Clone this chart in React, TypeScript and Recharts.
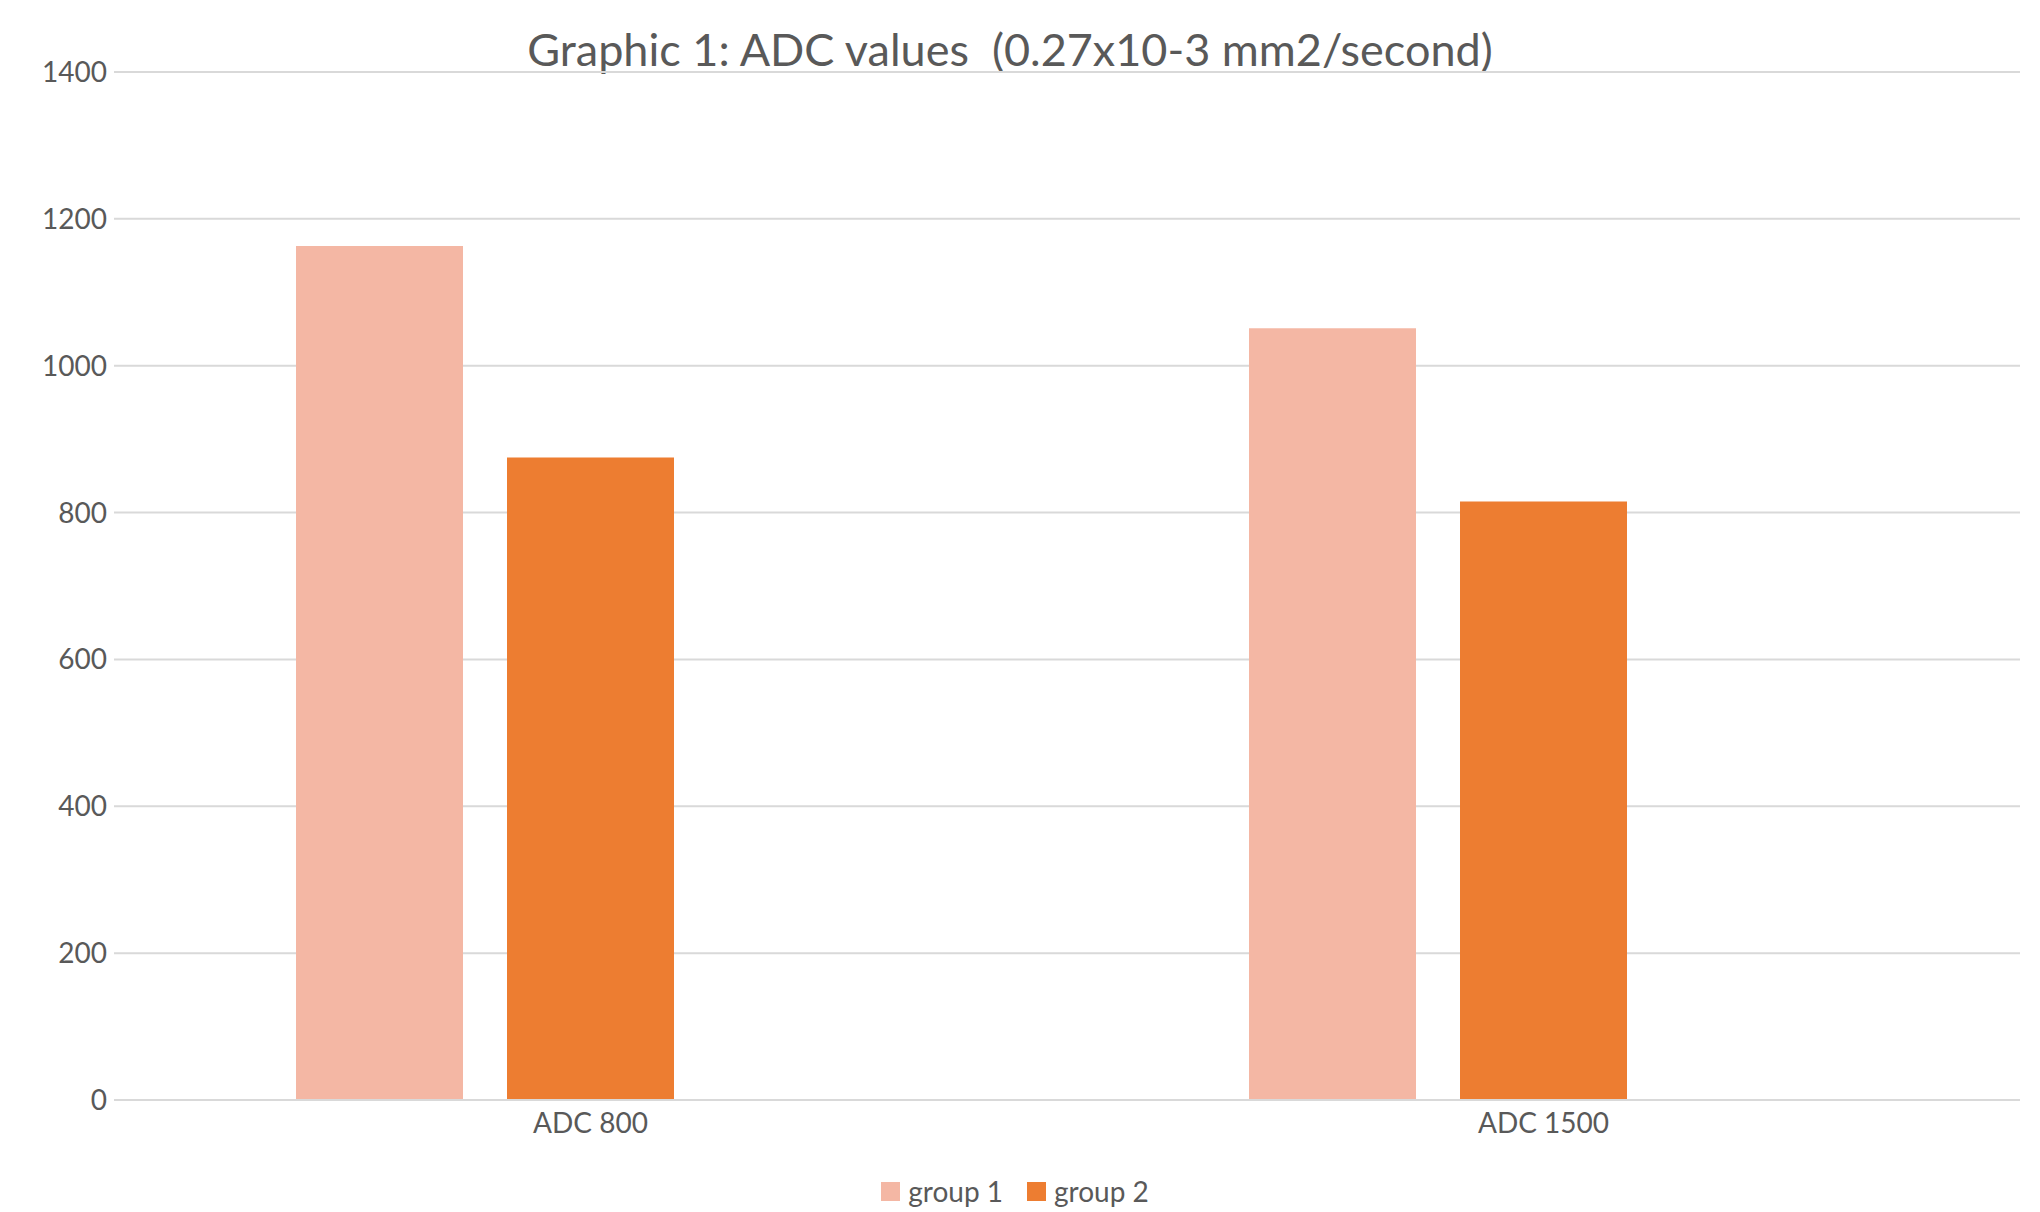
import { Bar, BarChart, CartesianGrid, Legend, XAxis, YAxis } from 'recharts';

const categories = ['ADC 800', 'ADC 1500'];
const group1 = [1163, 1051];
const group2 = [875, 815];
// third series slot is kept empty, so the pair sits left of each category tick
const group3: (number | null)[] = [null, null];
const yTicks = [0, 200, 400, 600, 800, 1000, 1200, 1400];

const colors = {
  group1: '#F4B7A4',
  group2: '#ED7D31',
  text: '#595959',
  grid: '#D9D9D9',
};

const data = categories.map((name, i) => ({
  name,
  group1: group1[i],
  group2: group2[i],
  group3: group3[i],
}));

const renderLegend = (props: any) => {
  const items = (props.payload || []).filter((p: any) => p.type !== 'none');
  return (
    <div style={{ display: 'flex', justifyContent: 'center', alignItems: 'center', gap: 24 }}>
      {items.map((entry: any) => (
        <span key={entry.value} style={{ display: 'inline-flex', alignItems: 'center' }}>
          <span style={{ display: 'inline-block', width: 19, height: 19, background: entry.color, marginRight: 8 }} />
          <span style={{ color: colors.text, fontSize: 28 }}>{entry.value}</span>
        </span>
      ))}
    </div>
  );
};

export default function App() {
  return (
    <div style={{ position: 'relative', width: 2040, height: 1212, fontFamily: 'Lato, sans-serif', background: '#fff' }}>
      <style>{`body { margin: 0; }`}</style>
      <div
        style={{
          position: 'absolute',
          top: 22,
          left: 0,
          width: 2020,
          textAlign: 'center',
          fontSize: 45,
          lineHeight: 1.2,
          color: colors.text,
          whiteSpace: 'pre',
        }}
      >
        {'Graphic 1: ADC values  (0.27x10-3 mm2/second)'}
      </div>
      <BarChart
        width={2040}
        height={1212}
        data={data}
        margin={{ top: 72, right: 20, bottom: 0, left: 0 }}
        barSize={167}
        barGap={44}
      >
        <CartesianGrid vertical={false} stroke={colors.grid} strokeWidth={2} />
        <XAxis
          dataKey="name"
          height={112}
          axisLine={{ stroke: colors.grid, strokeWidth: 2 }}
          tickLine={false}
          tickSize={0}
          tickMargin={13}
          tick={{ fill: colors.text, fontSize: 28 }}
        />
        <YAxis
          width={114}
          domain={[0, 1400]}
          ticks={yTicks}
          axisLine={false}
          tickLine={false}
          tickSize={0}
          tickMargin={7}
          tick={{ fill: colors.text, fontSize: 28 }}
        />
        <Legend
          verticalAlign="middle"
          align="center"
          content={renderLegend}
          wrapperStyle={{ top: 1174, left: 0, width: 2030 }}
        />
        <Bar dataKey="group1" name="group 1" fill={colors.group1} isAnimationActive={false} />
        <Bar dataKey="group2" name="group 2" fill={colors.group2} isAnimationActive={false} />
        <Bar dataKey="group3" name="group 3" fill="none" legendType="none" isAnimationActive={false} />
      </BarChart>
    </div>
  );
}
